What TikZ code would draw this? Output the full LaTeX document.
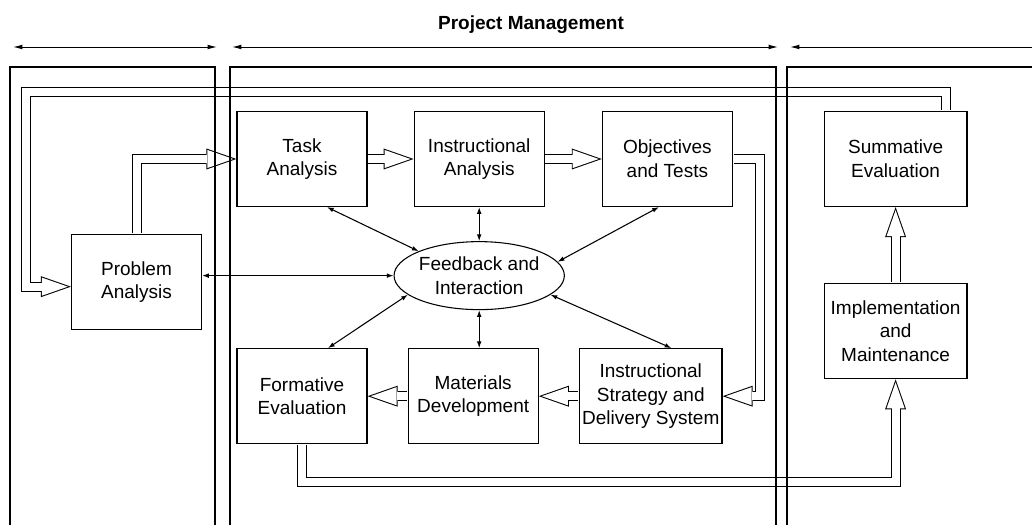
\documentclass[tikz,border=0pt]{standalone}
\usepackage{fontspec}
\setmainfont{Liberation Sans}
\usetikzlibrary{arrows.meta,positioning,shapes.geometric}

\begin{document}
\begin{tikzpicture}[x=0.75pt,y=0.75pt,
        every node/.style={font=\fontsize{14.25pt}{17.8pt}\selectfont,align=center},
        block/.style={draw,rectangle,line width=0.9pt,inner sep=0pt,
                      minimum width=97.5pt,minimum height=71.25pt},
        wide/.style={block,minimum width=107pt},
        hub/.style={draw,ellipse,line width=0.8pt,inner sep=0pt,
                    minimum width=122.25pt,minimum height=51pt},
        spoke/.style={line width=0.8pt,{Latex[length=5pt,width=3.5pt]}-{Latex[length=5pt,width=3.5pt]}},
        pipe/.style={line width=7.5pt,shorten <=0.45pt,
                     -{Triangle[length=22.5pt,width=15.75pt,line width=0pt]},
                     postaction={draw=white,line width=6pt,shorten >=2.3pt,
                                 -{Triangle[length=19.5pt,width=13.6pt,line width=0pt]}}},
        frame/.style={line width=1.5pt},
        span/.style={line width=0.7pt,{Latex[length=7pt,width=3.5pt]}-{Latex[length=7pt,width=3.5pt]}}]
   \useasboundingbox (0,0) rectangle (1032,525);

   \node (PM) at (531,500) {\bfseries Project Management};

   \node[block] (TA) at (302,366) {Task\\Analysis};
   \node[block] (IA) [right=34.5pt of TA] {Instructional\\Analysis};
   \node[block] (OT) [right=42.75pt of IA] {Objectives\\and Tests};
   \node[wide]  (SE) [right=68pt of OT] {Summative\\Evaluation};
   \node[wide]  (IM) [below=57pt of SE] {Implementation\\and\\Maintenance};

   \node[block] (FE) [below=105.75pt of TA] {Formative\\Evaluation};
   \node[block] (MD) [right=30pt of FE] {Materials\\Development};
   \node[wide]  (IS) [right=30pt of MD] {Instructional\\Strategy and\\Delivery System};

   \node[block] (PA) at (136.5,243) {Problem\\Analysis};
   \node[hub]   (FI) [below=25.5pt of IA] {Feedback and\\Interaction};

   % feedback links
   \draw[spoke] ([xshift=18.75pt]TA.south) -- (FI.north west);
   \draw[spoke] (IA) -- (FI);
   \draw[spoke] ([xshift=-6.4pt]OT.south) -- (FI.10);
   \draw[spoke] (PA.east |- FI.west) -- (FI.west);
   \draw[spoke] ([xshift=19.5pt]FE.north) -- (FI.195);
   \draw[spoke] (FI.south) -- (FI.south |- MD.north);
   \draw[spoke] ([xshift=15.5pt]IS.north) -- (FI.345);

   % main flow
   \draw[pipe] (PA.north) |- (TA.west);
   \draw[pipe] (TA) -- (IA);
   \draw[pipe] (IA) -- (OT);
   \draw[pipe] (OT.east) -- ++(20pt,0) |- (IS.east);
   \draw[pipe] (IS) -- (MD);
   \draw[pipe] (MD) -- (FE);
   \draw[pipe] (FE.south) -- ++(0,-28.5pt) -| (IM.south);
   \draw[pipe] (IM) -- (SE);
   \draw[pipe] ([xshift=-16pt]SE.north east) -- ++(0,14.5pt)
        -| ([xshift=-33.75pt,yshift=-3.5pt]PA.west) -- ([yshift=-3.5pt]PA.west);

   % phases
   \draw[frame] (10,0) |- (215,458) -- (215,0);
   \draw[frame] (230,0) |- (776,458) -- (776,0);
   \draw[frame] (787,0) |- (1032,458);
   \draw[span] (13,478) -- (217,478);
   \draw[span] (232,478) -- (778,478);
   \draw[span,{Latex[length=7pt,width=3.5pt]}-] (790,478) -- (1032,478);

\end{tikzpicture}
\end{document}
